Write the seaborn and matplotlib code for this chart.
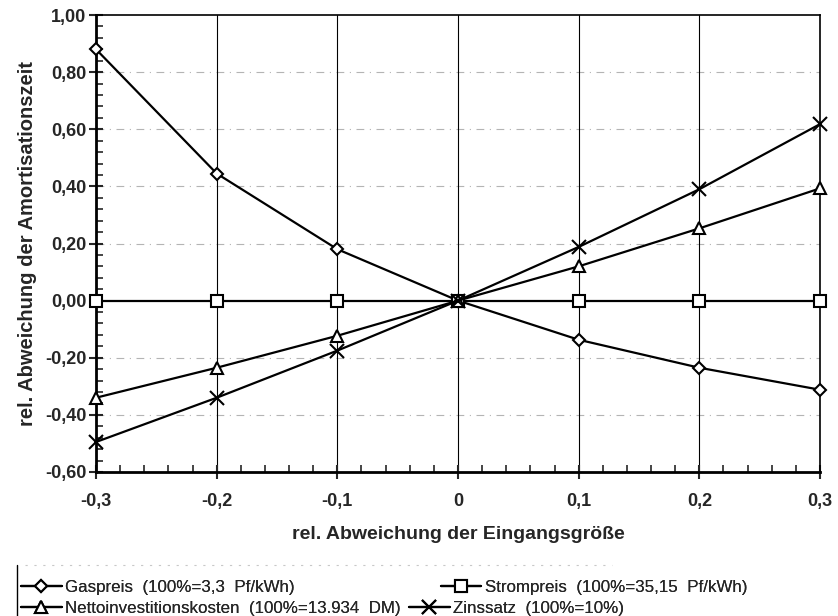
import numpy as np
import pandas as pd
import matplotlib
matplotlib.use("Agg")
import matplotlib.pyplot as plt
import seaborn as sns
from matplotlib.ticker import MultipleLocator, FuncFormatter

x_vals = [-0.3, -0.2, -0.1, 0.0, 0.1, 0.2, 0.3]
gaspreis = [0.88, 0.445, 0.18, 0.0, -0.137, -0.235, -0.312]
strompreis = [0.0, 0.0, 0.0, 0.0, 0.0, 0.0, 0.0]
netto = [-0.34, -0.235, -0.123, 0.0, 0.12, 0.253, 0.393]
zins = [-0.495, -0.34, -0.175, 0.0, 0.188, 0.39, 0.618]

labels = ["Gaspreis  (100%=3,3  Pf/kWh)",
          "Strompreis  (100%=35,15  Pf/kWh)",
          "Nettoinvestitionskosten  (100%=13.934  DM)",
          "Zinssatz  (100%=10%)"]
series_vals = [gaspreis, strompreis, netto, zins]
markers = ["D", "s", "^", "x"]
msizes = [6, 8, 8, 10]

sns.set_theme(style="white")
plt.rcParams['font.family'] = ['Liberation Sans', 'DejaVu Sans']

rows = []
for lab, vals in zip(labels, series_vals):
    for xv, yv in zip(x_vals, vals):
        rows.append({"x": xv, "y": yv, "Reihe": lab})
df = pd.DataFrame(rows)

fig = plt.figure(figsize=(8.38, 6.16), dpi=100)
ax = fig.add_axes([0.1146, 0.2338, 0.8639, 0.7418])

for yv in [-0.4, -0.2, 0.2, 0.4, 0.6, 0.8]:
    ax.axhline(yv, color="#b4b4b4", lw=0.8, ls=(0, (7, 5, 1, 5)), zorder=0)
for xv in x_vals:
    ax.axvline(xv, color="black", lw=0.8, zorder=0)

for lab, mk, ms in zip(labels, markers, msizes):
    sub = df[df["Reihe"] == lab]
    sns.lineplot(data=sub, x="x", y="y", ax=ax, color="black", lw=1.6,
                 marker=mk, markersize=ms, markerfacecolor="white" if mk != "x" else "black",
                 markeredgecolor="black", markeredgewidth=1.5, label=lab,
                 legend=False, zorder=3, clip_on=False)

ax.set_xlim(-0.3, 0.3)
ax.set_ylim(-0.6, 1.0)
ax.xaxis.set_major_locator(MultipleLocator(0.1))
ax.xaxis.set_minor_locator(MultipleLocator(0.02))
ax.yaxis.set_major_locator(MultipleLocator(0.2))
ax.yaxis.set_minor_locator(MultipleLocator(0.04))

def xfmt(v, pos):
    if abs(v) < 1e-9:
        return "0"
    return f"{v:.1f}".replace(".", ",")

def yfmt(v, pos):
    if abs(v) < 1e-9:
        v = 0.0
    return f"{v:.2f}".replace(".", ",")

ax.xaxis.set_major_formatter(FuncFormatter(xfmt))
ax.yaxis.set_major_formatter(FuncFormatter(yfmt))

ax.tick_params(axis="both", which="major", direction="inout", length=10, width=1.5,
               labelsize=13, bottom=True, left=True, pad=2)
ax.tick_params(axis="x", which="major", pad=10)
ax.tick_params(axis="both", which="minor", direction="in", length=5, width=1.2,
               bottom=True, left=True)
for lbl in ax.get_xticklabels() + ax.get_yticklabels():
    lbl.set_fontweight("bold")

for side in ["left", "bottom", "top", "right"]:
    ax.spines[side].set_color("black")
ax.spines["left"].set_linewidth(2.0)
ax.spines["bottom"].set_linewidth(2.0)
ax.spines["top"].set_linewidth(1.2)
ax.spines["right"].set_linewidth(1.2)

ax.set_xlabel("rel. Abweichung der Eingangsgröße", fontsize=14, fontweight="bold", labelpad=12)
ax.set_ylabel("rel. Abweichung der Amortisationszeit", fontsize=14.5, fontweight="bold", labelpad=6)

handles, hl = ax.get_legend_handles_labels()
hmap = dict(zip(hl, handles))
# individual legend entries placed as in the reference
leg_pos = {labels[0]: (0.025, 0.058),
           labels[2]: (0.025, 0.025),
           labels[1]: (0.526, 0.058),
           labels[3]: (0.488, 0.025)}
for lab in labels:
    lg = fig.legend([hmap[lab]], [lab], loc="upper left", bbox_to_anchor=leg_pos[lab],
                    frameon=False, fontsize=12.2, handlelength=2.4, handletextpad=0.2,
                    borderaxespad=0, borderpad=0)
    fig.add_artist(lg)
fig.add_artist(plt.Line2D([0.02, 0.02], [0.0, 0.083], color="black", lw=1.0))
fig.add_artist(plt.Line2D([0.03, 0.73], [0.083, 0.083], color="#c8c8c8", lw=0.8, ls=(0, (2, 6))))

fig.savefig("out.png", dpi=100)
